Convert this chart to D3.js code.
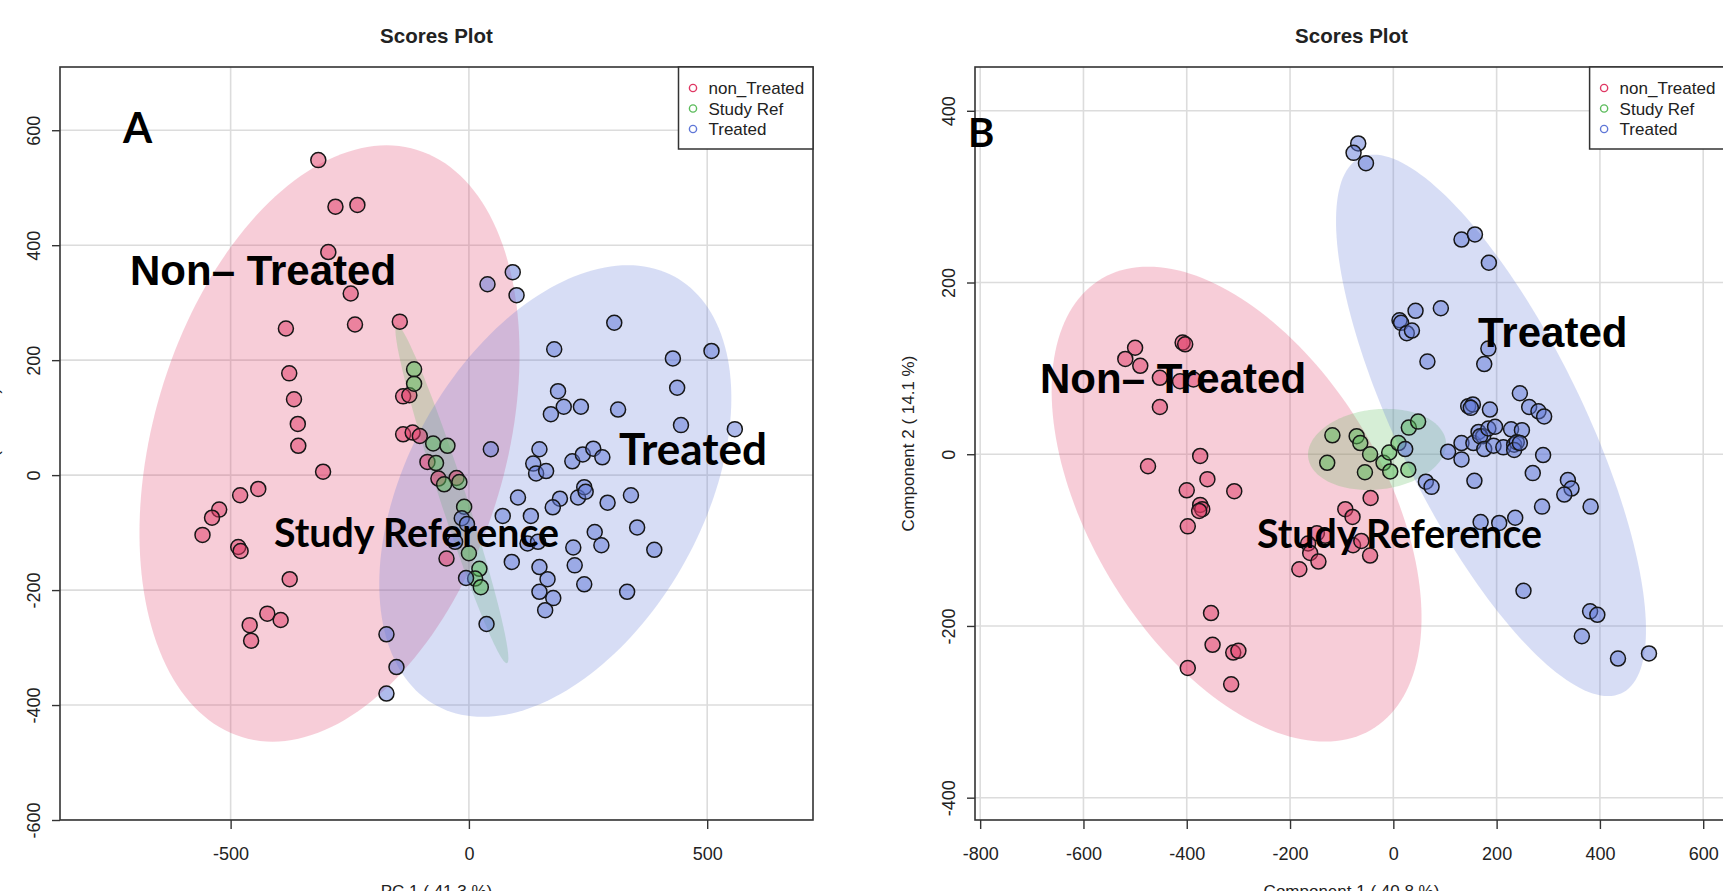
<!DOCTYPE html>
<html>
<head>
<meta charset="utf-8">
<script src="https://cdn.jsdelivr.net/npm/d3@7"></script>
<style>
  body { margin: 0; background: #fff; }
  svg { display: block; font-family: "Liberation Sans", Arial, sans-serif; }
</style>
</head>
<body>
<svg id="fig" width="1723" height="891"></svg>
<script>
// ---- groups -------------------------------------------------------------
const groups = ["non_Treated", "Study Ref", "Treated"];
const groupColors = ["#DF3763", "#5BBB5B", "#5F77D7"];

// ---- Panel A: PCA scores (PC1, PC2) ------------------------------------
const pcaNonTreated = [
  [-316,548],[-280,467],[-234,470],[-295,388],[-248,316],[-384,255],[-239,262],[-145,267],
  [-377,177],[-367,132],[-138,137],[-125,139],[-359,89],[-358,51],[-138,71],[-118,74],
  [-103,68],[-87,23],[-64,-6],[-26,-5],[-306,6],[-442,-24],[-480,-35],[-524,-60],
  [-539,-74],[-559,-104],[-484,-125],[-479,-132],[-376,-181],[-423,-241],[-395,-252],
  [-460,-261],[-457,-288],[-47,-145]
];
const pcaStudyRef = [
  [-115,184],[-115,159],[-75,55],[-45,51],[-69,21],[-52,-16],[-20,-12],[-10,-55],
  [0,-136],[22,-163],[13,-180],[25,-195]
];
const pcaTreated = [
  [-173,-277],[-152,-334],[-173,-380],[39,332],[92,353],[100,313],[305,265],[179,219],
  [428,203],[509,216],[437,152],[187,146],[199,119],[235,119],[313,114],[172,106],
  [445,87],[558,80],[46,45],[148,45],[135,20],[141,3],[162,7],[217,24],[239,36],
  [261,46],[280,31],[103,-39],[191,-41],[176,-56],[229,-39],[242,-21],[245,-29],
  [291,-48],[340,-35],[-15,-75],[-4,-85],[-29,-116],[-6,-179],[37,-259],[71,-71],
  [130,-71],[123,-119],[145,-116],[90,-151],[148,-160],[165,-181],[148,-203],
  [177,-214],[160,-235],[219,-126],[222,-157],[264,-99],[278,-122],[242,-190],
  [332,-203],[353,-91],[389,-130]
];
// 95% confidence regions per group: [meanX, meanY, sdX, sdY, r]
const pcaRegions = [
  [-292.5, 55, 162.9, 211.9, 0.30],
  [-35.7, -33, 48.4, 120.2, -0.97],
  [181.3, -27.7, 150.9, 160.5, 0.412]
];
const pcaXTicks = [-500, 0, 500];
const pcaYTicks = [-600, -400, -200, 0, 200, 400, 600];

// ---- Panel B: PLS-DA scores (Component 1, Component 2) ------------------
const plsNonTreated = [
  [-500,124],[-519,111],[-490,103],[-408,130],[-403,128],[-452,89],[-413,85],[-387,87],
  [-452,55],[-475,-14],[-374,-2],[-360,-29],[-400,-42],[-308,-43],[-374,-59],[-370,-64],
  [-376,-66],[-398,-84],[-148,-92],[-132,-95],[-165,-104],[-161,-115],[-145,-125],
  [-182,-134],[-44,-51],[-93,-64],[-79,-73],[-78,-106],[-62,-101],[-45,-118],
  [-353,-185],[-350,-222],[-310,-231],[-300,-229],[-398,-249],[-314,-268]
];
const plsStudyRef = [
  [-118,22],[-128,-10],[-71,21],[-64,13],[-45,0],[-55,-21],[-19,-10],[-8,2],
  [-6,-20],[10,13],[29,-18],[30,31],[48,38]
];
const plsTreated = [
  [-68,362],[-77,351],[-53,339],[132,250],[158,256],[185,223],[12,156],[15,153],
  [43,167],[92,170],[26,141],[36,144],[184,123],[176,105],[66,108],[245,71],[263,55],
  [281,50],[292,44],[145,56],[154,58],[150,54],[187,52],[23,6],[63,-32],[74,-38],
  [106,3],[132,-6],[132,13],[155,13],[165,26],[174,21],[168,21],[184,30],[197,32],
  [176,6],[194,10],[213,8],[228,29],[249,28],[234,11],[239,14],[234,5],[245,13],
  [290,-1],[270,-22],[157,-31],[338,-30],[345,-40],[331,-47],[288,-61],[382,-61],
  [169,-79],[205,-80],[236,-74],[252,-159],[381,-183],[395,-187],[365,-212],
  [435,-238],[495,-232]
];
const plsRegions = [
  [-303.5, -58.1, 146.3, 113.0, -0.478],
  [-31.5, 5.6, 54.6, 19.3, 0.13],
  [189.1, 33.6, 122.6, 128.8, -0.755]
];
const plsXTicks = [-800, -600, -400, -200, 0, 200, 400, 600];
const plsYTicks = [-400, -200, 0, 200, 400];

// ---- drawing -------------------------------------------------------------
const svg = d3.select("#fig");
svg.append("rect").attr("width", 1723).attr("height", 891).attr("fill", "#fff");

const CHI95 = Math.sqrt(5.991); // 2-d 95% radius

function regionPath(reg, x, y) {
  const [mx, my, sx, sy, r] = reg;
  const q = Math.sqrt(1 - r * r);
  const pts = d3.range(0, 181).map(i => {
    const t = i / 180 * 2 * Math.PI;
    return [x(mx + CHI95 * sx * (r * Math.cos(t) + q * Math.sin(t))),
            y(my + CHI95 * sy * Math.cos(t))];
  });
  return d3.line()(pts) + "Z";
}

function drawPanel(cfg) {
  const L = cfg.left, T = 67, S = 753, B = T + S, R = L + S;
  const x = d3.scaleLinear().domain(cfg.xDomain).range([L, R]);
  const y = d3.scaleLinear().domain(cfg.yDomain).range([B, T]);
  const g = svg.append("g");

  const clipId = "clip" + cfg.id;
  g.append("clipPath").attr("id", clipId)
    .append("rect").attr("x", L).attr("y", T).attr("width", S).attr("height", S);
  const plot = g.append("g").attr("clip-path", `url(#${clipId})`);

  // grid
  plot.append("g").selectAll("line").data(cfg.xTicks).join("line")
    .attr("x1", d => x(d)).attr("x2", d => x(d)).attr("y1", T).attr("y2", B)
    .attr("stroke", "#dcdcdc").attr("stroke-width", 1.6);
  plot.append("g").selectAll("line").data(cfg.yTicks).join("line")
    .attr("y1", d => y(d)).attr("y2", d => y(d)).attr("x1", L).attr("x2", R)
    .attr("stroke", "#dcdcdc").attr("stroke-width", 1.6);

  // confidence regions
  plot.append("g").selectAll("path").data(cfg.regions).join("path")
    .attr("d", d => regionPath(d, x, y))
    .attr("fill", (d, i) => groupColors[i])
    .attr("fill-opacity", 0.25);

  // scores
  cfg.series.forEach((pts, i) => {
    plot.append("g").selectAll("circle").data(pts).join("circle")
      .attr("cx", d => x(d[0])).attr("cy", d => y(d[1])).attr("r", 7.5)
      .attr("fill", groupColors[i]).attr("fill-opacity", 0.5)
      .attr("stroke", "#161616").attr("stroke-width", 1.5);
  });

  // axes
  const fmt = d => String(d);
  const xa = g.append("g").attr("transform", `translate(0,${B})`)
    .call(d3.axisBottom(x).tickValues(cfg.xTicks).tickSize(9).tickFormat(fmt));
  const ya = g.append("g").attr("transform", `translate(${L},0)`)
    .call(d3.axisLeft(y).tickValues(cfg.yTicks).tickSize(8).tickFormat(fmt));
  [xa, ya].forEach(a => {
    a.select(".domain").remove();
    a.selectAll(".tick line").attr("stroke", "#333").attr("stroke-width", 1.4);
    a.selectAll(".tick text").attr("fill", "#222")
      .style("font-family", '"Liberation Sans", Arial, sans-serif').style("font-size", "18px");
  });
  xa.selectAll(".tick text").attr("y", 40).attr("dy", 0);
  ya.selectAll(".tick text")
    .attr("transform", "rotate(-90)").attr("x", 0).attr("y", -20).attr("dy", 0)
    .attr("text-anchor", "middle");

  // frame
  g.append("rect").attr("x", L).attr("y", T).attr("width", S).attr("height", S)
    .attr("fill", "none").attr("stroke", "#333").attr("stroke-width", 1.6);

  // titles
  g.append("text").attr("x", (L + R) / 2).attr("y", 43).attr("text-anchor", "middle")
    .style("font-size", "20.5px").style("font-weight", "bold").attr("fill", "#222")
    .text("Scores Plot");
  g.append("text").attr("x", (L + R) / 2).attr("y", 897).attr("text-anchor", "middle")
    .style("font-size", "17px").attr("fill", "#222").text(cfg.xTitle);
  g.append("text").attr("transform", `translate(${L - cfg.yTitleGap},${(T + B) / 2}) rotate(-90)`)
    .attr("text-anchor", "middle").style("font-size", "17px").attr("fill", "#222")
    .text(cfg.yTitle);

  // legend
  const lx = cfg.legendLeft;
  const leg = g.append("g");
  leg.append("rect").attr("x", lx).attr("y", T).attr("width", 134.5).attr("height", 82)
    .attr("fill", "#fff").attr("stroke", "#333").attr("stroke-width", 1.5);
  groups.forEach((name, i) => {
    const by = 94 + i * 20.5;
    leg.append("circle").attr("cx", lx + 14.5).attr("cy", by - 6).attr("r", 3.6)
      .attr("fill", "none").attr("stroke", groupColors[i]).attr("stroke-width", 1.4);
    leg.append("text").attr("x", lx + 30).attr("y", by)
      .style("font-size", "17px").attr("fill", "#222").text(name);
  });

  return g;
}

function bigLabel(g, text, xLeft, yBase, opts) {
  const t = g.append("text").attr("x", xLeft).attr("y", yBase)
    .style("font-family", opts.family).style("font-weight", "bold")
    .style("font-size", opts.size + "px").attr("fill", "#000").text(text);
  if (opts.width) {
    const w = t.node().getComputedTextLength();
    t.style("font-size", (opts.size * opts.width / w).toFixed(2) + "px");
  }
  return t;
}

const gA = drawPanel({
  id: "A", left: 60, xDomain: [-858, 722], yDomain: [-600, 710],
  xTicks: pcaXTicks, yTicks: pcaYTicks,
  series: [pcaNonTreated, pcaStudyRef, pcaTreated], regions: pcaRegions,
  xTitle: "PC 1 ( 41.3 %)", yTitle: "PC 2 ( 14.8 %)", yTitleGap: 61,
  legendLeft: 678.5
});
const gB = drawPanel({
  id: "B", left: 975, xDomain: [-810, 648], yDomain: [-426, 451],
  xTicks: plsXTicks, yTicks: plsYTicks,
  series: [plsNonTreated, plsStudyRef, plsTreated], regions: plsRegions,
  xTitle: "Component 1 ( 40.8 %)", yTitle: "Component 2 ( 14.1 %)", yTitleGap: 61,
  legendLeft: 1589.6
});

const calibriLike = "Lato, 'Open Sans', sans-serif";
const arialBold = "'Liberation Sans', Arial, sans-serif";

bigLabel(gA, "A", 123, 143, { family: calibriLike, size: 42 });
bigLabel(gA, "Non\u2013 Treated", 130, 285, { family: arialBold, size: 42 });
bigLabel(gA, "Treated", 619, 465, { family: calibriLike, size: 42, width: 148 });
bigLabel(gA, "Study Reference", 274, 547, { family: calibriLike, size: 40, width: 285 });

bigLabel(gB, "B", 968, 147, { family: calibriLike, size: 40 });
bigLabel(gB, "Non\u2013 Treated", 1040, 393, { family: arialBold, size: 42 });
bigLabel(gB, "Treated", 1478, 347, { family: arialBold, size: 42 });
bigLabel(gB, "Study Reference", 1257, 548, { family: calibriLike, size: 40, width: 285 });
</script>
</body>
</html>
